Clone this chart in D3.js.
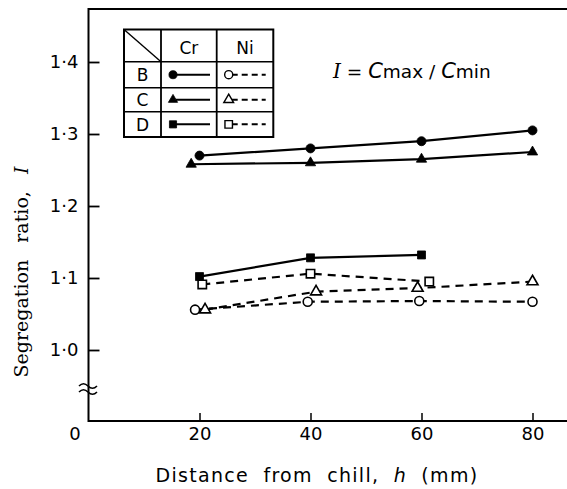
<!DOCTYPE html>
<html><head><meta charset="utf-8">
<script src="https://cdn.jsdelivr.net/npm/d3@7"></script>
<style>
body{margin:0;background:#fff;}
svg{display:block;}
</style></head><body>
<svg id="chart" width="567" height="489"></svg>
<script>
// Segregation ratio I = Cmax/Cmin of Cr and Ni against distance from the chill
const xTicks = [0, 20, 40, 60, 80];
const yTicks = [1.0, 1.1, 1.2, 1.3, 1.4];

const crBx = [20, 40, 60, 80];
const crB  = [1.270, 1.280, 1.290, 1.305];
const crCx = [18.5, 40, 60, 80];
const crC  = [1.258, 1.260, 1.265, 1.275];
const crDx = [20, 40, 60];
const crD  = [1.102, 1.128, 1.132];
const niBx = [19.2, 39.5, 59.6, 80];
const niB  = [1.056, 1.067, 1.068, 1.067];
const niCx = [21, 41, 59.3, 80];
const niC  = [1.056, 1.081, 1.086, 1.095];
const niDx = [20.5, 40, 61.4];
const niD  = [1.091, 1.106, 1.095];

const rowLabels = ["B", "C", "D"];
const colLabels = ["Cr", "Ni"];

const svg = d3.select("#chart");
const frame = {left: 88.5, top: 9, bottom: 421, right: 580};

const x = d3.scaleLinear().domain([0, 80]).range([88.5, 532.5]);
const y = d3.scaleLinear().domain([1.0, 1.4]).range([350, 62]);

const sans = "DejaVu Sans, sans-serif";
const serif = "DejaVu Serif, serif";

// frame (right side runs off the page)
const fr = svg.append("g").attr("stroke", "#000").attr("stroke-width", 2).attr("fill", "none");
fr.append("path").attr("d", `M${frame.right},${frame.top}H${frame.left}V${frame.bottom}H${frame.right}`);

// axis break on the y axis
const brk = svg.append("g").attr("stroke", "#000").attr("stroke-width", 1.6).attr("fill", "none");
[386, 392].forEach(yy => {
  brk.append("path").attr("d", `M79,${yy} q4.5,-4.5 9,0 t9,0`);
});

const fmtY = d => d3.format(".1f")(d).replace(".", "\u00B7");

const yAxis = svg.append("g")
  .attr("transform", `translate(${frame.left},0)`)
  .call(d3.axisLeft(y).tickValues(yTicks).tickSize(-11).tickPadding(10).tickFormat(fmtY));
yAxis.select(".domain").remove();
yAxis.selectAll(".tick line").attr("stroke-width", 1.8);
yAxis.selectAll("text").attr("font-family", sans).attr("font-size", 18).attr("fill", "#000");

const xAxis = svg.append("g")
  .attr("transform", `translate(0,${frame.bottom})`)
  .call(d3.axisBottom(x).tickValues(xTicks).tickSize(-8).tickPadding(6).tickFormat(d3.format("d")));
xAxis.select(".domain").remove();
xAxis.selectAll(".tick line").attr("stroke-width", 1.5).filter(d => d === 0).remove();
xAxis.selectAll("text").attr("font-family", sans).attr("font-size", 18).attr("fill", "#000");
xAxis.selectAll(".tick").filter(d => d === 0).select("text").attr("x", -14);

// series
const series = [
  {xs: crBx, ys: crB, sym: d3.symbolCircle,   size: 64, filled: true,  dash: null},
  {xs: crCx, ys: crC, sym: d3.symbolTriangle, size: 46, filled: true,  dash: null},
  {xs: crDx, ys: crD, sym: d3.symbolSquare,   size: 64, filled: true,  dash: null},
  {xs: niBx, ys: niB, sym: d3.symbolCircle,   size: 64, filled: false, dash: "8,6"},
  {xs: niCx, ys: niC, sym: d3.symbolTriangle, size: 52, filled: false, dash: "8,6"},
  {xs: niDx, ys: niD, sym: d3.symbolSquare,   size: 70, filled: false, dash: "8,6"}
];

const line = d3.line().x(d => x(d[0])).y(d => y(d[1]));
const gLines = svg.append("g");
const gPts = svg.append("g");
series.forEach(s => {
  const pts = s.xs.map((v, i) => [v, s.ys[i]]);
  gLines.append("path").datum(pts).attr("d", line)
    .attr("fill", "none").attr("stroke", "#000").attr("stroke-width", 2.2)
    .attr("stroke-dasharray", s.dash);
});
series.forEach(s => {
  const pts = s.xs.map((v, i) => [v, s.ys[i]]);
  gPts.selectAll(null).data(pts).enter().append("path")
    .attr("d", d3.symbol().type(s.sym).size(s.size))
    .attr("transform", d => `translate(${x(d[0])},${y(d[1])})`)
    .attr("fill", s.filled ? "#000" : "#fff")
    .attr("stroke", "#000").attr("stroke-width", s.filled ? 0.8 : 1.6);
});

// key table
const tab = {cols: [124, 161, 216.7, 273.3], rows: [29.5, 61.7, 87.7, 111.7, 137]};
const gKey = svg.append("g");
const kl = gKey.append("g").attr("stroke", "#000").attr("fill", "none");
kl.append("rect").attr("x", tab.cols[0]).attr("y", tab.rows[0])
  .attr("width", tab.cols[3] - tab.cols[0]).attr("height", tab.rows[4] - tab.rows[0]).attr("stroke-width", 2);
tab.cols.slice(1, 3).forEach(cx => kl.append("line").attr("x1", cx).attr("x2", cx)
  .attr("y1", tab.rows[0]).attr("y2", tab.rows[4]).attr("stroke-width", 1.8));
tab.rows.slice(1, 4).forEach(ry => kl.append("line").attr("x1", tab.cols[0]).attr("x2", tab.cols[3])
  .attr("y1", ry).attr("y2", ry).attr("stroke-width", 1.6));
kl.append("line").attr("x1", tab.cols[0]).attr("y1", tab.rows[0])
  .attr("x2", tab.cols[1]).attr("y2", tab.rows[1]).attr("stroke-width", 1.4);

colLabels.forEach((t, i) => {
  gKey.append("text").attr("x", (tab.cols[i + 1] + tab.cols[i + 2]) / 2).attr("y", 54)
    .attr("text-anchor", "middle").attr("font-family", sans).attr("font-size", 17).text(t);
});
rowLabels.forEach((t, i) => {
  const cy = (tab.rows[i + 1] + tab.rows[i + 2]) / 2;
  gKey.append("text").attr("x", (tab.cols[0] + tab.cols[1]) / 2).attr("y", cy + 6.5)
    .attr("text-anchor", "middle").attr("font-family", sans).attr("font-size", 17).text(t);
  [series[i], series[i + 3]].forEach((s, j) => {
    const c0 = tab.cols[j + 1];
    gKey.append("line").attr("x1", c0 + 15).attr("x2", c0 + 49).attr("y1", cy).attr("y2", cy)
      .attr("stroke", "#000").attr("stroke-width", 2).attr("stroke-dasharray", s.dash ? "6,4" : null);
    gKey.append("path").attr("d", d3.symbol().type(s.sym).size(s.size * 0.8))
      .attr("transform", `translate(${c0 + 12},${cy})`)
      .attr("fill", s.filled ? "#000" : "#fff")
      .attr("stroke", "#000").attr("stroke-width", s.filled ? 0.8 : 1.4);
  });
});

// definition of I
const eq = svg.append("text").attr("x", 333).attr("y", 78).attr("font-family", sans).attr("font-size", 18.5);
eq.append("tspan").attr("font-family", serif).attr("font-style", "italic").attr("font-size", 20).text("I");
eq.append("tspan").text(" = ");
eq.append("tspan").attr("font-style", "italic").attr("font-size", 21).text("C");
eq.append("tspan").text("max / ");
eq.append("tspan").attr("font-style", "italic").attr("font-size", 21).text("C");
eq.append("tspan").text("min");

// axis titles
const yl = svg.append("text").attr("transform", "translate(28,272) rotate(-90)")
  .attr("text-anchor", "middle").attr("font-family", serif).attr("font-size", 19)
  .attr("word-spacing", 11);
yl.append("tspan").text("Segregation ratio, ");
yl.append("tspan").attr("font-style", "italic").text("I");

const xl = svg.append("text").attr("x", 317).attr("y", 482)
  .attr("text-anchor", "middle").attr("font-family", sans).attr("font-size", 19)
  .attr("letter-spacing", 1.3).attr("word-spacing", 7);
xl.append("tspan").text("Distance from chill, ");
xl.append("tspan").attr("font-style", "italic").text("h");
xl.append("tspan").text(" (mm)");
</script>
</body></html>
